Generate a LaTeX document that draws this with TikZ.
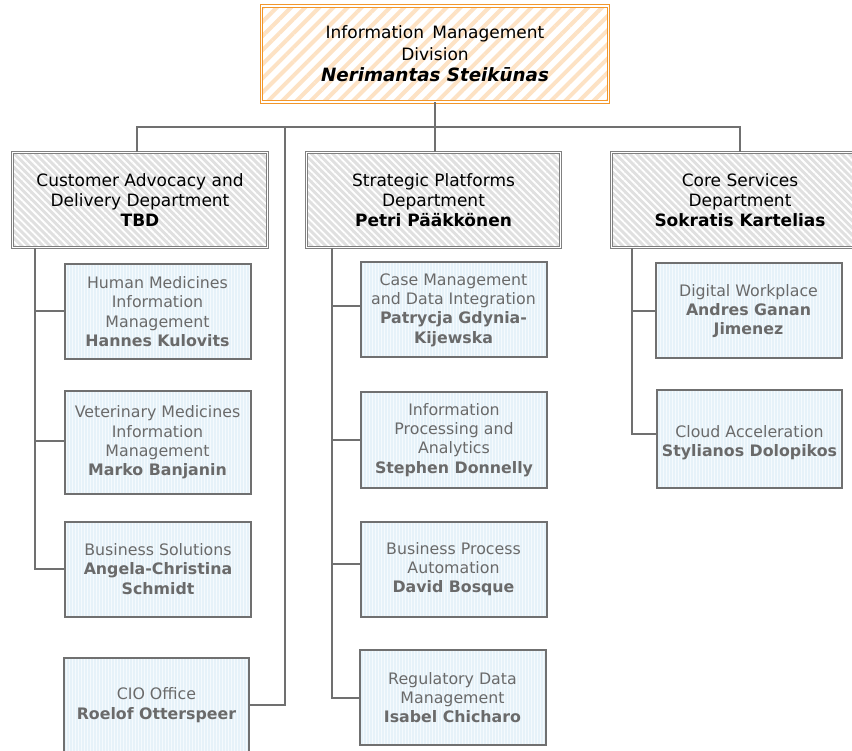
\documentclass[tikz,border=0pt]{standalone}
\usepackage{fontspec}
\setmainfont{DejaVu Sans}
\usetikzlibrary{patterns.meta}
\definecolor{lineg}{HTML}{707070}
\definecolor{subtext}{HTML}{6A6A6A}
\definecolor{subfill}{HTML}{E6F2F9}
\definecolor{orng}{HTML}{F2962A}
\definecolor{orstripe}{HTML}{FDE2C4}
\definecolor{deptfill}{HTML}{E0E0E0}
\definecolor{deptline}{HTML}{808080}
\tikzset{
  conn/.style={draw=lineg, line width=2pt},
  topbox/.style={preaction={fill=white}, pattern={Lines[angle=45,distance=10pt,line width=4pt]}, pattern color=orstripe,
    draw=orng, double=white, double distance=1.6pt, line width=0.9pt,
    minimum width=347pt, minimum height=96pt, inner sep=0pt, align=center,
    font=\fontsize{17}{21.5}\selectfont},
  deptbox/.style={preaction={fill=deptfill}, pattern={Lines[angle=-45,distance=5pt,line width=1.8pt]}, pattern color=white,
    draw=deptline, double=white, double distance=1.4pt, line width=0.9pt,
    minimum height=95pt, inner sep=0pt, align=center,
    font=\fontsize{17}{20.3}\selectfont},
  subbox/.style={preaction={fill=subfill}, pattern={Lines[angle=90,distance=3pt,line width=0.7pt]}, pattern color=white!60!subfill,
    draw=lineg, line width=2pt, minimum width=186pt, minimum height=95pt, inner sep=0pt, align=center,
    text=subtext, font=\fontsize{15.8}{19.3}\selectfont},
}
\begin{document}
\begin{tikzpicture}[x=1pt,y=-1pt]
\useasboundingbox (0,0) rectangle (852,751);
% top
\node[topbox] (top) at (435,54) {Information\ \,Management\\Division\\{\fontsize{18.3}{21.5}\selectfont\textbf{\textit{Nerimantas Steikūnas}}}};
% departments
\node[deptbox, minimum width=255pt] (dl) at (140,200) {Customer Advocacy and\\Delivery Department\\\textbf{TBD}};
\node[deptbox, minimum width=254pt] (dm) at (433.5,200) {Strategic Platforms\\Department\\\textbf{Petri Pääkkönen}};
\node[deptbox, minimum width=257pt] (dr) at (740,200) {Core Services\\Department\\\textbf{Sokratis Kartelias}};
% left column
\node[subbox] (hm) at (157.5,311.5) {Human Medicines\\Information\\Management\\\textbf{Hannes Kulovits}};
\node[subbox, minimum height=102pt] (vm) at (157.5,442.5) {Veterinary Medicines\\Information\\Management\\\textbf{Marko Banjanin}};
\node[subbox] (bs) at (158,569) {Business Solutions\\\textbf{Angela-Christina}\\\textbf{Schmidt}};
\node[subbox, minimum width=185pt] (cio) at (156.5,705) {CIO Office\\\textbf{Roelof Otterspeer}};
% middle column
\node[subbox] (cm) at (453.5,310) {Case Management\\and Data Integration\\\textbf{Patrycja Gdynia-}\\\textbf{Kijewska}};
\node[subbox] (ip) at (454,440) {Information\\Processing and\\Analytics\\\textbf{Stephen Donnelly}};
\node[subbox] (bpa) at (453.5,569) {Business Process\\Automation\\\textbf{David Bosque}};
\node[subbox] (rdm) at (452.5,697.5) {Regulatory Data\\Management\\\textbf{Isabel Chicharo}};
% right column
\node[subbox] (dw) at (748.5,311) {Digital Workplace\\\textbf{Andres Ganan}\\\textbf{Jimenez}};
\node[subbox, minimum width=185pt, minimum height=97pt] (ca) at (749.5,439) {\\[0pt]Cloud Acceleration\\\textbf{Stylianos Dolopikos}};
% bus
\coordinate (bL) at (137,127);
\coordinate (bR) at (740,127);
\coordinate (bC) at (285,127);
\draw[conn] (top.south) -- (top.south |- dm.north);
\draw[conn] (bL |- dl.north) -- (bL) -- (bR) -- (bR |- dr.north);
\draw[conn] (bC) |- (cio.east);
% left branch
\coordinate (vL) at (35,0);
\draw[conn] (vL |- dl.south) |- (bs.west);
\draw[conn] (vL |- hm.west) -- (hm.west);
\draw[conn] ([yshift=2pt]vL |- vm.west) -- ([yshift=2pt]vm.west);
% middle branch
\coordinate (vM) at (332,0);
\draw[conn] (vM |- dm.south) |- (rdm.west);
\draw[conn] ([yshift=4pt]vM |- cm.west) -- ([yshift=4pt]cm.west);
\draw[conn] (vM |- ip.west) -- (ip.west);
\draw[conn] ([yshift=5pt]vM |- bpa.west) -- ([yshift=5pt]bpa.west);
% right branch
\coordinate (vR) at (632,0);
\draw[conn] (vR |- dr.south) |- ([yshift=5pt]ca.west);
\draw[conn] (vR |- dw.west) -- (dw.west);
\end{tikzpicture}
\end{document}
